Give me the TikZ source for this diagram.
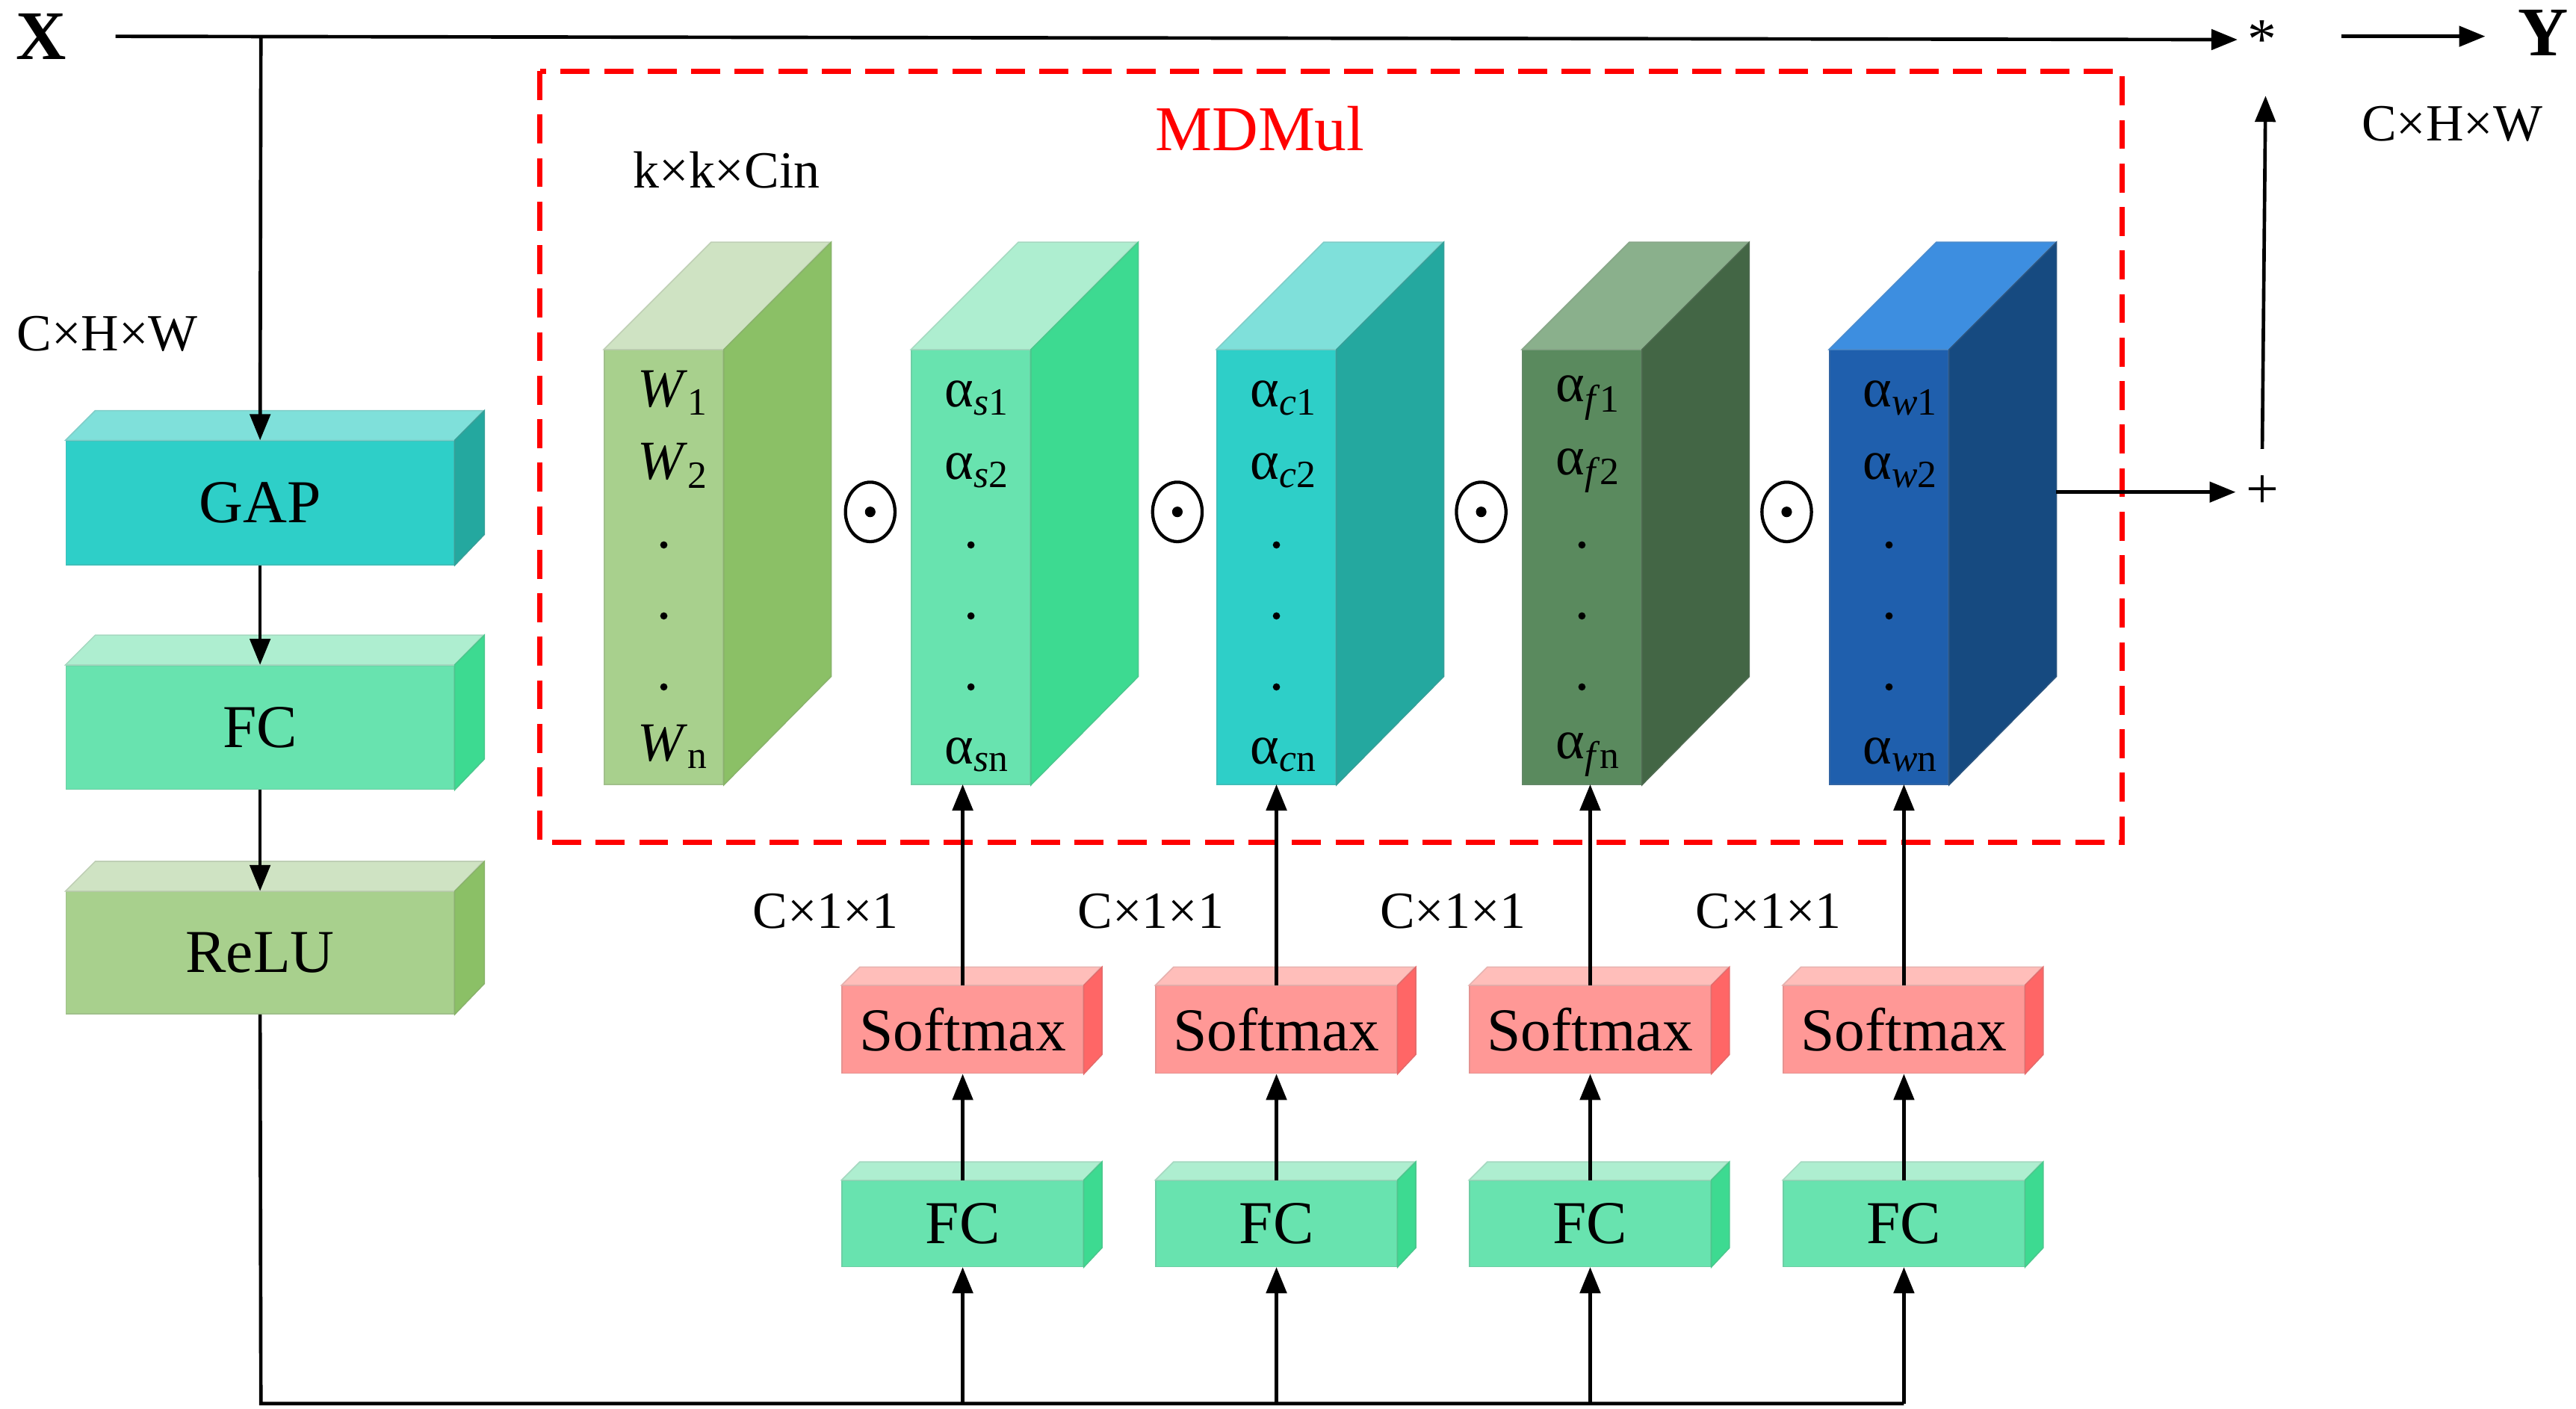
\documentclass[tikz,border=0pt]{standalone}
\usepackage{fontspec}
\setmainfont{Liberation Serif}
\usetikzlibrary{arrows.meta}
\definecolor{wF}{HTML}{A8D08D}\definecolor{wT}{HTML}{CFE3C3}\definecolor{wS}{HTML}{8BC066}
\definecolor{sF}{HTML}{68E3AF}\definecolor{sT}{HTML}{AEEED0}\definecolor{sS}{HTML}{3DDA91}
\definecolor{cF}{HTML}{2ECFC8}\definecolor{cT}{HTML}{7FE0DA}\definecolor{cS}{HTML}{24A89F}
\definecolor{fF}{HTML}{5A8A5E}\definecolor{fT}{HTML}{8AB08C}\definecolor{fS}{HTML}{436645}
\definecolor{bF}{HTML}{1F5FAD}\definecolor{bT}{HTML}{3D8EE0}\definecolor{bS}{HTML}{164A80}
\definecolor{mF}{HTML}{FF9896}\definecolor{mT}{HTML}{FFBEBA}\definecolor{mS}{HTML}{FF6666}
\newcommand\mycub[9]{% name, cx, cy, w, h, d, F, T, S
  \node[fill=#7,draw=#7!80!gray,minimum width=#4*0.02cm,minimum height=#5*0.02cm,inner sep=0pt] (#1) at (#2,#3) {};
  \fill[#8,draw=#8!80!gray] (#1.north west)--++(#6,-#6)--++(#4,0)--(#1.north east)--cycle;
  \fill[#9,draw=#9!80!gray] (#1.north east)--++(#6,-#6)--++(0,#5)--(#1.south east)--cycle;}
\begin{document}
\begin{tikzpicture}[x=0.02cm,y=-0.02cm,
  arr/.style={-{Triangle[length=9pt,width=7pt]},line width=1.2pt},
  ln/.style={line width=1.2pt},
  lab/.style={font=\fontsize{18}{20}\selectfont},
  box/.style={font=\fontsize{21}{24}\selectfont},
  cubtxt/.style={font=\fontsize{19}{22}\selectfont,anchor=west}]
\useasboundingbox (0,0) rectangle (1560,853);
% left branch
\node[font=\fontsize{24}{26}\selectfont\bfseries] (X) at (25,22) {X};
\node[font=\fontsize{24}{26}\selectfont\bfseries] (Y) at (1540,20) {Y};
\node[font=\fontsize{20}{22}\selectfont] (star) at (1370,24) {*};
\node[font=\fontsize{20}{22}\selectfont] (plus) at (1370,298) {+};
\coordinate (xs) at (70,22);
\coordinate (xb) at (158,22);
\draw[arr] (xs) -- (star.west);
\coordinate (ys) at (1418,22);
\draw[arr] (ys) -- (1505,22) coordinate (ye);
\node[lab] (chw1) at (1485,75) {C×H×W};
\node[lab] (chw2) at (65,202) {C×H×W};
\mycub{gap}{157.5}{304.5}{235}{75}{18}{cF}{cT}{cS}
\node[box] at (gap) {GAP};
\mycub{fc}{157.5}{440.5}{235}{75}{18}{sF}{sT}{sS}
\node[box] at (fc) {FC};
\mycub{relu}{157.5}{577}{235}{74}{18}{wF}{wT}{wS}
\node[box] at (relu) {ReLU};
\draw[arr] (xb) -- (gap.north);
\draw[arr] (gap.south) -- (fc.north);
\draw[arr] (fc.south) -- (relu.north);
\coordinate (bl) at (158,850);
\coordinate (br) at (1153,850);
\draw[ln] (relu.south) -- (bl) -- (br);
% MDMul box
\draw[red,dashed,line width=1.8pt,dash pattern=on 10pt off 5pt] (327,43) rectangle (1285,510);
\node[red,font=\fontsize{22}{24}\selectfont] (md) at (763,78) {MDMul};
\node[lab] (kk) at (440,103) {k×k×Cin};
% cuboids
\mycub{cw}{402}{343.5}{72}{263}{65}{wF}{wT}{wS}
\mycub{cs}{588}{343.5}{72}{263}{65}{sF}{sT}{sS}
\mycub{cc}{773}{343.5}{72}{263}{65}{cF}{cT}{cS}
\mycub{cf}{958}{343.5}{72}{263}{65}{fF}{fT}{fS}
\mycub{cb}{1144}{343.5}{72}{263}{65}{bF}{bT}{bS}
\foreach \n/\dx in {cw/0,cs/0,cc/0,cf/0,cb/0}{
  \foreach \yy in {330,373,416}{\fill (\n.north |- 0,\yy) circle (2.2);}}
\node[cubtxt] at (380,238) {\textit{W}\textsubscript{1}};
\node[cubtxt] at (380,282) {\textit{W}\textsubscript{2}};
\node[cubtxt] at (380,452) {\textit{W}\textsubscript{n}};
\foreach \n/\s/\x in {cs/s/566,cc/c/751,cf/f/936,cb/w/1122}{
  \node[cubtxt] at (\x,241) {α\textsubscript{\textit{\s}1}};
  \node[cubtxt] at (\x,285) {α\textsubscript{\textit{\s}2}};
  \node[cubtxt] at (\x,457) {α\textsubscript{\textit{\s}n}};}
\foreach \x in {527,713,897,1082}{
  \draw[line width=1.1pt] (\x,310) ellipse (15 and 18);
  \fill (\x,310) circle (3.2);}
\draw[arr] (1245,298) -- (plus.west);
\draw[arr] (plus.north) ++(0,-10) coordinate (pu) -- (1372,58) coordinate (pt);
% branches
\foreach \i/\x/\c/\lx in {1/583/cs/500,2/773/cc/697,3/963/cf/880,4/1153/cb/1071}{
  \mycub{sm\i}{\x}{623.5}{146}{53}{11}{mF}{mT}{mS}
  \node[box] at (sm\i) {Softmax};
  \mycub{f\i}{\x}{741}{146}{52}{11}{sF}{sT}{sS}
  \node[box] at (f\i) {FC};
  \draw[arr] (f\i.north) -- (sm\i.south);
  \draw[arr] (sm\i.north) -- (\x,475);
  \draw[arr] (\x,850) -- (f\i.south);
  \node[lab] at (\lx,552) {C×1×1};}
\end{tikzpicture}
\end{document}
